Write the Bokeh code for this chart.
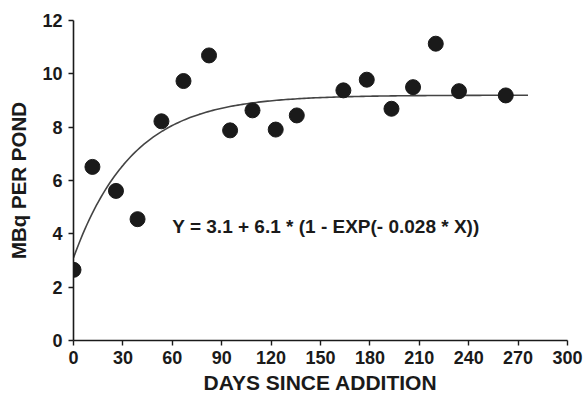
import numpy as np
from bokeh.plotting import figure
from bokeh.models import Range1d, FixedTicker, Label
from bokeh.embed import file_html
from bokeh.resources import INLINE

# Observed data (days since addition, MBq per pond)
days = [0, 11.5, 25.8, 38.9, 53.4, 66.8, 82.3, 95.1, 108.7, 122.8, 135.6,
        163.9, 178.1, 193.1, 206.2, 220.0, 234.1, 262.5]
mbq = [2.65, 6.51, 5.61, 4.55, 8.22, 9.73, 10.69, 7.88, 8.63, 7.91, 8.44,
       9.38, 9.78, 8.69, 9.50, 11.13, 9.35, 9.19]

# Fitted model shown on the chart: Y = A + B * (1 - EXP(-K * X))
fit_a = 3.1
fit_b = 6.1
fit_k = 0.028
fit_x_max = 276
equation_text = "Y = 3.1 + 6.1 * (1 - EXP(- 0.028 * X))"

x_ticks = [0, 30, 60, 90, 120, 150, 180, 210, 240, 270, 300]
y_ticks = [0, 2, 4, 6, 8, 10, 12]

fit_x = np.linspace(0, fit_x_max, 200)
fit_y = fit_a + fit_b * (1 - np.exp(-fit_k * fit_x))

FONT = "Liberation Sans"
INK = "#1a1a1a"

p = figure(width=584, height=396, output_backend="svg", toolbar_location=None,
           x_range=Range1d(0, 300), y_range=Range1d(0, 12),
           min_border_left=73, min_border_right=17, min_border_top=20,
           min_border_bottom=55)
p.outline_line_color = None
p.xgrid.visible = False
p.ygrid.visible = False
p.background_fill_color = "white"

p.line(fit_x, fit_y, line_color="#444444", line_width=1.6)
p.scatter(days, mbq, size=15, fill_color=INK, line_color=INK)

lab = Label(x=60, y=4.29, text=equation_text, text_font=FONT, text_font_size="19px",
            text_font_style="bold", text_color=INK, text_baseline="middle",
            text_align="left")
p.add_layout(lab)

for ax in (p.xaxis[0], p.yaxis[0]):
    ax.axis_line_color = INK
    ax.axis_line_width = 1.6
    ax.major_tick_line_color = INK
    ax.major_tick_line_width = 1.4
    ax.minor_tick_line_color = None
    ax.major_tick_in = 0
    ax.major_tick_out = 5
    ax.major_label_text_font = FONT
    ax.major_label_text_font_size = "18px"
    ax.major_label_text_font_style = "bold"
    ax.major_label_text_color = INK
    ax.axis_label_text_font = FONT
    ax.axis_label_text_font_style = "bold"
    ax.axis_label_text_color = INK

p.xaxis.ticker = FixedTicker(ticks=x_ticks)
p.yaxis.ticker = FixedTicker(ticks=y_ticks)
p.xaxis.axis_label = "DAYS SINCE ADDITION"
p.yaxis.axis_label = "MBq PER POND"
p.xaxis.axis_label_text_font_size = "21px"
p.yaxis.axis_label_text_font_size = "20.5px"
p.xaxis.major_label_standoff = 5
p.xaxis.axis_label_standoff = 4
p.yaxis.major_label_standoff = 6
p.yaxis.axis_label_standoff = 9

open("out.html", "w").write(file_html(p, INLINE))
